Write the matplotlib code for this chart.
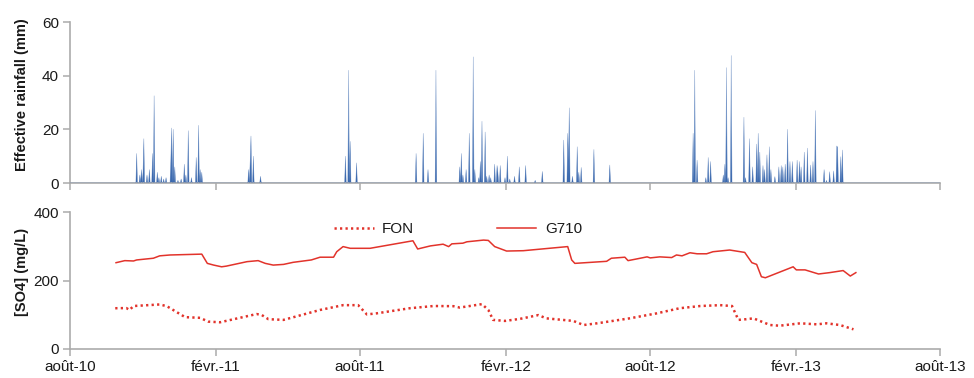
import numpy as np
import pandas as pd
import matplotlib
matplotlib.use("Agg")
import matplotlib.pyplot as plt
import matplotlib.dates as mdates
from matplotlib.colors import LinearSegmentedColormap

plt.rcParams["font.family"] = ["Liberation Sans", "DejaVu Sans"]

# Effective rainfall (mm), daily events
rain_dates = [
    "2010-10-24", "2010-10-28", "2010-10-30", "2010-11-01", "2010-11-02", "2010-11-06",
    "2010-11-09", "2010-11-13", "2010-11-15", "2010-11-19", "2010-11-21", "2010-11-24",
    "2010-11-27", "2010-11-30", "2010-12-06", "2010-12-07", "2010-12-09", "2010-12-11",
    "2010-12-15", "2010-12-19", "2010-12-23", "2010-12-25", "2010-12-28", "2011-01-01",
    "2011-01-07", "2011-01-10", "2011-01-12", "2011-01-14", "2011-03-14", "2011-03-16",
    "2011-03-17", "2011-03-20", "2011-03-29", "2011-07-14", "2011-07-18", "2011-07-20",
    "2011-07-28", "2011-10-11", "2011-10-20", "2011-10-26", "2011-11-05", "2011-12-05",
    "2011-12-07", "2011-12-09", "2011-12-13", "2011-12-17", "2011-12-22", "2011-12-24",
    "2011-12-29", "2011-12-31", "2012-01-02", "2012-01-06", "2012-01-08", "2012-01-11",
    "2012-01-13", "2012-01-18", "2012-01-21", "2012-01-22", "2012-01-25", "2012-01-31",
    "2012-02-03", "2012-02-06", "2012-02-12", "2012-02-18", "2012-02-26", "2012-03-09",
    "2012-03-18", "2012-04-14", "2012-04-19", "2012-04-20", "2012-04-21", "2012-04-25",
    "2012-05-01", "2012-05-03", "2012-05-06", "2012-05-22", "2012-06-11", "2012-09-24",
    "2012-09-26", "2012-09-29", "2012-10-10", "2012-10-13", "2012-10-16", "2012-11-01",
    "2012-11-03", "2012-11-05", "2012-11-07", "2012-11-11", "2012-11-27", "2012-11-29",
    "2012-12-04", "2012-12-08", "2012-12-13", "2012-12-15", "2012-12-17", "2012-12-21",
    "2012-12-23", "2012-12-26", "2012-12-29", "2012-12-31", "2013-01-05", "2013-01-10",
    "2013-01-13", "2013-01-15", "2013-01-18", "2013-01-21", "2013-01-24", "2013-01-27",
    "2013-02-02", "2013-02-05", "2013-02-07", "2013-02-11", "2013-02-15", "2013-02-19",
    "2013-02-22", "2013-02-25", "2013-03-08", "2013-03-11", "2013-03-15", "2013-03-20",
    "2013-03-24", "2013-03-25", "2013-03-29", "2013-03-31",
]
rain_mm = [
    11, 3, 5, 4, 16.5, 3,
    5, 11, 32.5, 4, 2, 2.5,
    1.5, 2, 8, 20.5, 20, 6,
    1, 1.5, 7, 3, 19.5, 2,
    9.5, 21.5, 5, 4, 5, 8,
    17.5, 10, 2.5, 10, 42, 15.5,
    7.5, 11, 18.5, 5, 42, 6,
    11, 3, 5, 18.5, 47, 5,
    2, 8, 23, 19, 2.5, 3,
    2, 7, 6.5, 4, 6.5, 2,
    10, 1.5, 2.5, 6, 6.5, 1,
    4.3, 16, 18.5, 8, 28, 2.5,
    13.5, 4, 5.8, 12.5, 6.7, 18.5,
    42, 8.5, 2, 9.5, 8, 3,
    7, 43, 2, 47.5, 24.5, 2,
    16.5, 6, 14.5, 18.5, 11.5, 6.5,
    5, 10.5, 13.5, 5, 2.4, 6,
    6.5, 6, 7, 20, 8, 8,
    8.5, 8, 6, 11.5, 13, 6.7,
    8, 27, 5, 1, 4.2, 4.5,
    13.8, 13.3, 9.8, 12.3,
]

# Sulphate concentrations (mg/L)
g710_dates = [
    "2010-09-28", "2010-10-09", "2010-10-20", "2010-10-24", "2010-11-14", "2010-11-22",
    "2010-12-05", "2011-01-14", "2011-01-21", "2011-01-29", "2011-02-08", "2011-02-14",
    "2011-03-12", "2011-03-26", "2011-04-04", "2011-04-14", "2011-04-27", "2011-05-09",
    "2011-06-01", "2011-06-12", "2011-06-29", "2011-07-03", "2011-07-11", "2011-07-20",
    "2011-08-14", "2011-10-07", "2011-10-13", "2011-10-29", "2011-11-14", "2011-11-21",
    "2011-11-25", "2011-12-09", "2011-12-14", "2012-01-04", "2012-01-10", "2012-01-18",
    "2012-02-02", "2012-02-23", "2012-04-19", "2012-04-24", "2012-04-28", "2012-06-07",
    "2012-06-13", "2012-06-30", "2012-07-04", "2012-07-15", "2012-07-28", "2012-08-01",
    "2012-08-13", "2012-08-28", "2012-09-03", "2012-09-10", "2012-09-20", "2012-09-29",
    "2012-10-11", "2012-10-19", "2012-11-09", "2012-11-28", "2012-12-07", "2012-12-13",
    "2012-12-19", "2012-12-24", "2013-01-28", "2013-02-01", "2013-02-12", "2013-03-01",
    "2013-03-15", "2013-04-01", "2013-04-10", "2013-04-17",
]
g710_so4 = [
    252, 258, 257, 260, 265, 272,
    274.5, 277, 250, 245, 240, 242,
    255, 258, 250, 245, 247, 253,
    260, 268, 268, 284, 299, 294,
    294, 316, 292, 301, 306, 299,
    307, 309, 313, 318, 317, 299,
    286, 287, 299, 260, 250, 256,
    265, 268, 258, 263, 269, 266,
    269, 267, 274.5, 272, 281, 278,
    278, 284, 289, 282, 252, 247,
    211, 208, 240, 231, 231, 219,
    223, 229, 213, 223,
]
fon_dates = [
    "2010-09-27", "2010-10-11", "2010-10-15", "2010-10-20", "2010-11-22", "2010-12-01",
    "2010-12-24", "2011-01-12", "2011-01-22", "2011-02-06", "2011-03-24", "2011-03-30",
    "2011-04-08", "2011-04-27", "2011-06-12", "2011-07-11", "2011-07-30", "2011-08-10",
    "2011-08-22", "2011-10-03", "2011-11-02", "2011-11-27", "2011-12-05", "2012-01-02",
    "2012-01-10", "2012-01-16", "2012-01-31", "2012-02-19", "2012-03-13", "2012-03-23",
    "2012-04-26", "2012-05-09", "2012-05-26", "2012-07-06", "2012-08-09", "2012-09-07",
    "2012-10-03", "2012-10-28", "2012-11-12", "2012-11-20", "2012-11-30", "2012-12-09",
    "2012-12-17", "2012-12-30", "2013-01-11", "2013-02-06", "2013-02-27", "2013-03-11",
    "2013-03-28", "2013-04-14",
]
fon_so4 = [
    119, 119.5, 114, 125.5, 130, 125,
    93, 91, 80, 78, 102, 100,
    87, 85, 114, 128, 128, 101,
    104, 119, 125.5, 125, 121, 131,
    114, 85, 82, 88, 99, 89.5,
    82, 70, 75, 89.5, 104, 119,
    125.5, 128, 125.5, 85, 87, 89.5,
    82, 70, 68, 75, 72, 75,
    70, 57.5,
]

tick_dates = ["2010-08-01", "2011-02-01", "2011-08-01", "2012-02-01",
              "2012-08-01", "2013-02-01", "2013-08-01"]
tick_labels = ["août-10", "févr.-11", "août-11", "févr.-12",
               "août-12", "févr.-13", "août-13"]

RED = "#E2332B"
AXIS_GREY = "#ABABAB"
TEXT = "#1A1A1A"

fig = plt.figure(figsize=(9.74, 3.78), dpi=100)
ax_top = fig.add_axes([70 / 974, 1 - 183 / 378, 870 / 974, 161 / 378])
ax_bot = fig.add_axes([70 / 974, 1 - 349 / 378, 870 / 974, 137 / 378])

xmin = mdates.date2num(pd.Timestamp(tick_dates[0]))
xmax = mdates.date2num(pd.Timestamp(tick_dates[-1]))
ticks = mdates.date2num(pd.to_datetime(tick_dates))

# Daily rainfall series for the area chart
rain = pd.Series(rain_mm, index=pd.to_datetime(rain_dates))
days = pd.date_range(tick_dates[0], tick_dates[-1], freq="D")
daily = rain.reindex(days, fill_value=0.0)
dx = mdates.date2num(days)
dy = daily.to_numpy(dtype=float)

poly = ax_top.fill_between(dx, 0, dy, color="none", linewidth=0)
grad_cmap = LinearSegmentedColormap.from_list(
    "rainfade", ["#3A68AE", "#5A84C0", "#BFD0E8", "#F2F5FB"])
grad = np.linspace(0, 1, 256).reshape(-1, 1)
img = ax_top.imshow(grad, cmap=grad_cmap, origin="lower", aspect="auto",
                    extent=[xmin, xmax, 0, 50], interpolation="bilinear", zorder=2)
img.set_clip_path(poly.get_paths()[0], transform=ax_top.transData)
ax_top.plot(dx, dy, color="#3A68AE", linewidth=0.35, alpha=0.6, zorder=3)

ax_top.set_ylim(0, 60)
ax_top.set_yticks([0, 20, 40, 60])
ax_top.set_ylabel("Effective rainfall (mm)", fontsize=10.5, fontweight="bold",
                  color=TEXT)

# Sulphate lines
g_x = mdates.date2num(pd.to_datetime(g710_dates))
f_x = mdates.date2num(pd.to_datetime(fon_dates))
ax_bot.plot(f_x, fon_so4, color=RED, linewidth=1.8, linestyle=(0, (0.9, 1.3)),
            label="FON", zorder=3)
ax_bot.plot(g_x, g710_so4, color=RED, linewidth=1.1, label="G710", zorder=3)
ax_bot.set_ylim(0, 400)
ax_bot.set_yticks([0, 200, 400])
ax_bot.set_ylabel("[SO4] (mg/L)", fontsize=10.5, fontweight="bold", color=TEXT)
leg = ax_bot.legend(loc="upper center", bbox_to_anchor=(0.446, 1.025), ncol=2,
                    frameon=False, fontsize=11, handlelength=2.6,
                    columnspacing=5.4, handletextpad=0.55)
for t in leg.get_texts():
    t.set_color(TEXT)

for ax in (ax_top, ax_bot):
    ax.set_xlim(xmin, xmax)
    ax.set_xticks(ticks)
    for side in ("top", "right"):
        ax.spines[side].set_visible(False)
    for side in ("left", "bottom"):
        ax.spines[side].set_color(AXIS_GREY)
        ax.spines[side].set_linewidth(1.2)
    ax.tick_params(axis="both", direction="out", length=5, width=1.1,
                   color=AXIS_GREY, labelsize=11, labelcolor=TEXT, pad=3)
    ax.set_facecolor("white")

ax_top.set_xticklabels([])
ax_bot.set_xticklabels(tick_labels)
ax_top.yaxis.set_label_coords(-0.047, 0.55)
ax_bot.yaxis.set_label_coords(-0.047, 0.565)

fig.savefig("out.png", dpi=100, facecolor="white")
